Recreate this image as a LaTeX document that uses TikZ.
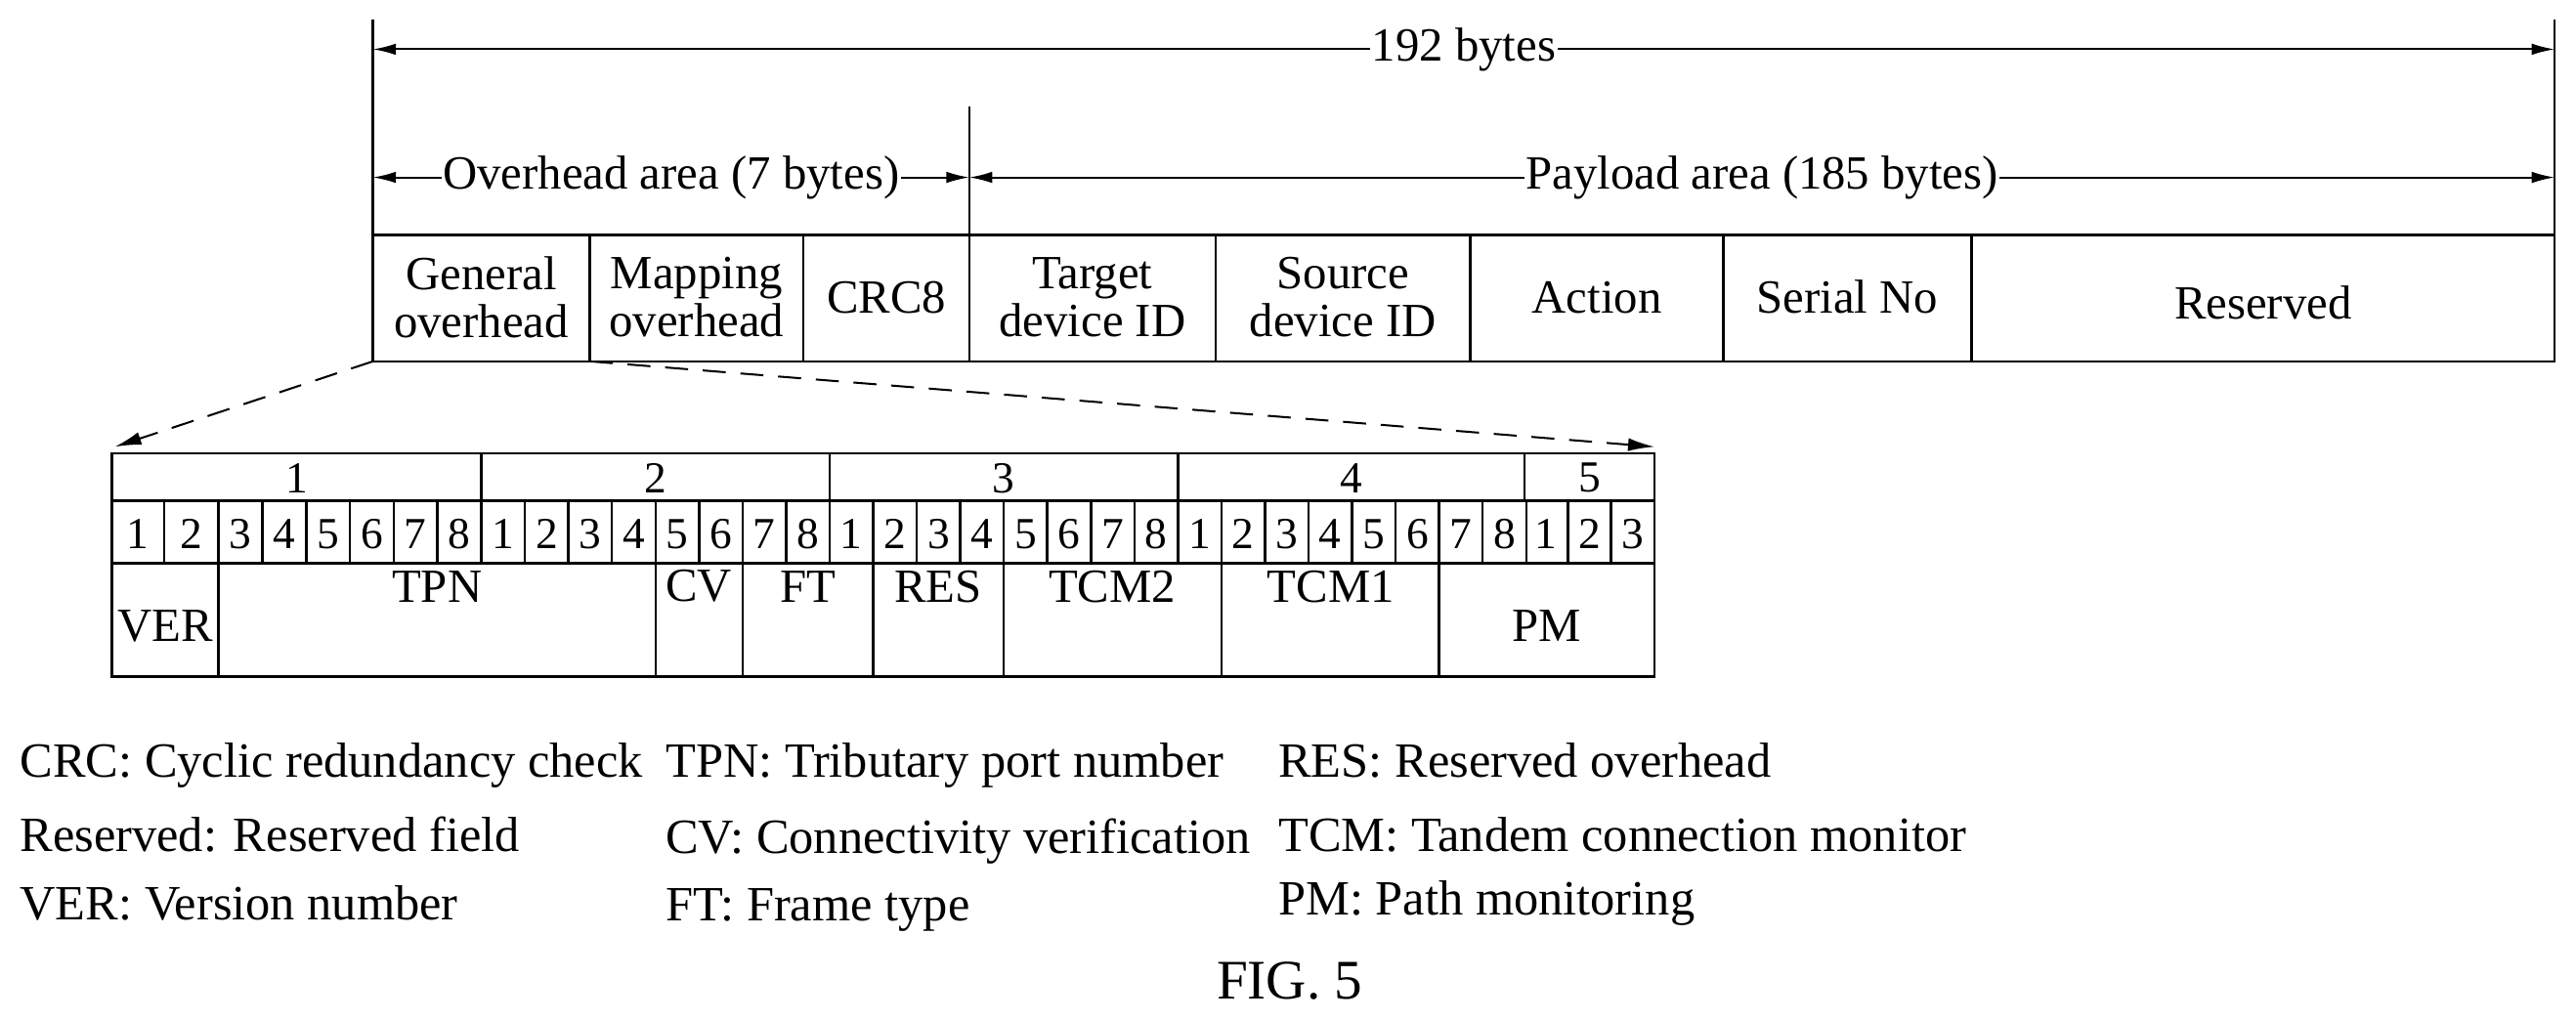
\documentclass[tikz,border=0pt]{standalone}
\usepackage{fontspec}
\setmainfont{Liberation Serif}
\usetikzlibrary{arrows.meta}
\begin{document}
\begin{tikzpicture}[x=1pt,y=-1pt,
  lbl/.style={inner sep=1pt,font=\fontsize{29}{29}\selectfont,align=center},
  sm/.style={inner sep=0pt,font=\fontsize{27}{27}\selectfont},
  leg/.style={inner sep=0pt,anchor=west,font=\fontsize{30}{30}\selectfont},
  dim/.style={{Latex[length=14pt,width=7pt]}-{Latex[length=14pt,width=7pt]},line width=1.2pt},
  ln/.style={line width=1.5pt}]
\useasboundingbox (0,0) rectangle (1568,621);
% top dimension lines
\draw[ln] (227,12) -- (227,220);
\draw[ln] (1555,12) -- (1555,220);
\draw[ln] (590,65) -- (590,220);
\coordinate (t1) at (227,30); \coordinate (t2) at (1555,30);
\draw[dim] (t1) -- node[lbl,fill=white,inner sep=1pt] (b192) {192 bytes} (t2);
\coordinate (o1) at (227,108); \coordinate (o2) at (590,108); \coordinate (p2) at (1555,108);
\draw[dim] (o1) -- node[lbl,fill=white] (oh) {Overhead area (7 bytes)} (o2);
\draw[dim] (o2) -- node[lbl,fill=white] (pl) {Payload area (185 bytes)} (p2);
% frame boxes
\draw[ln] (227,143) rectangle (1555,220);
\foreach \x in {359,489,590,740,895,1049,1200} \draw[ln] (\x,143) -- (\x,220);
\node[lbl] (g) at (293,181) {General\\overhead};
\node[lbl] (m) at (424,181) {Mapping\\overhead};
\node[lbl] (c) at (539.5,181) {CRC8};
\node[lbl] (tg) at (665,181) {Target\\device ID};
\node[lbl] (sr) at (817.5,181) {Source\\device ID};
\node[lbl] (ac) at (972,181) {Action};
\node[lbl] (sn) at (1124.5,181) {Serial No};
\node[lbl] (rs) at (1377.5,184) {Reserved};
% dashed expansion
\coordinate (d1) at (227,220); \coordinate (d2) at (359,220);
\coordinate (e1) at (70,272); \coordinate (e2) at (1007,272);
\draw[line width=1.2pt,dash pattern=on 14pt off 9pt,-{Latex[length=16pt,width=8pt]}] (d1) -- (e1);
\draw[line width=1.2pt,dash pattern=on 14pt off 9pt,-{Latex[length=16pt,width=8pt]}] (d2) -- (e2);
% bit table
\draw[ln] (68,276) rectangle (1007,412);
\draw[ln] (68,305) -- (1007,305);
\draw[ln] (68,343) -- (1007,343);
\foreach \x in {293,505,717,928} \draw[ln] (\x,276) -- (\x,305);
\foreach \x/\t in {180.5/1,399/2,611/3,822.5/4,967.5/5} \node[sm] at (\x,291) {\t};
% bits
\foreach \a/\b/\t in {68/100/1,100/133/2} {\draw[ln] (\b,305) -- (\b,343); \node[sm] at ({(\a+\b)/2},325) {\t};}
\foreach \i in {3,...,8} {\pgfmathsetmacro\xa{133+(\i-3)*26.667}\pgfmathsetmacro\xb{\xa+26.667}
  \draw[ln] (\xb,305) -- (\xb,343); \node[sm] at ({(\xa+\xb)/2},325) {\i};}
\foreach \s in {293,505,717} \foreach \i in {1,...,8} {\pgfmathsetmacro\xa{\s+(\i-1)*26.5}\pgfmathsetmacro\xb{\xa+26.5}
  \draw[ln] (\xb,305) -- (\xb,343); \node[sm] at ({(\xa+\xb)/2},325) {\i};}
\foreach \i in {1,2,3} {\pgfmathsetmacro\xa{928+(\i-1)*26.33}\pgfmathsetmacro\xb{\xa+26.33}
  \draw[ln] (\xb,305) -- (\xb,343); \node[sm] at ({(\xa+\xb)/2},325) {\i};}
% fields
\foreach \x in {133,399,452,531.5,611,743.5,876} \draw[ln] (\x,343) -- (\x,412);
\node[lbl] (ver) at (100.5,381) {VER};
\node[lbl] (tpn) at (266,357) {TPN};
\node[lbl] (cv) at (425.5,357) {CV};
\node[lbl] (ft) at (492,357) {FT};
\node[lbl] (res) at (571,357) {RES};
\node[lbl] (t2n) at (677,357) {TCM2};
\node[lbl] (t1n) at (810,357) {TCM1};
\node[lbl] (pm) at (941.5,381) {PM};
% legend
\node[leg] (l1) at (12,466) {CRC: Cyclic redundancy check};
\node[leg] (l2) at (12,508) {Reserved: Reserved field};
\node[leg] (l3) at (12,550) {VER: Version number};
\node[leg] (l4) at (405,466) {TPN: Tributary port number};
\node[leg] (l5) at (405,512) {CV: Connectivity verification};
\node[leg] (l6) at (405,554) {FT: Frame type};
\node[leg] (l7) at (778,463) {RES: Reserved overhead};
\node[leg] (l8) at (778,508) {TCM: Tandem connection monitor};
\node[leg] (l9) at (778,550) {PM: Path monitoring};
\node[inner sep=0pt,font=\fontsize{34}{34}\selectfont] (fig) at (785,597) {FIG. 5};
\end{tikzpicture}
\end{document}
